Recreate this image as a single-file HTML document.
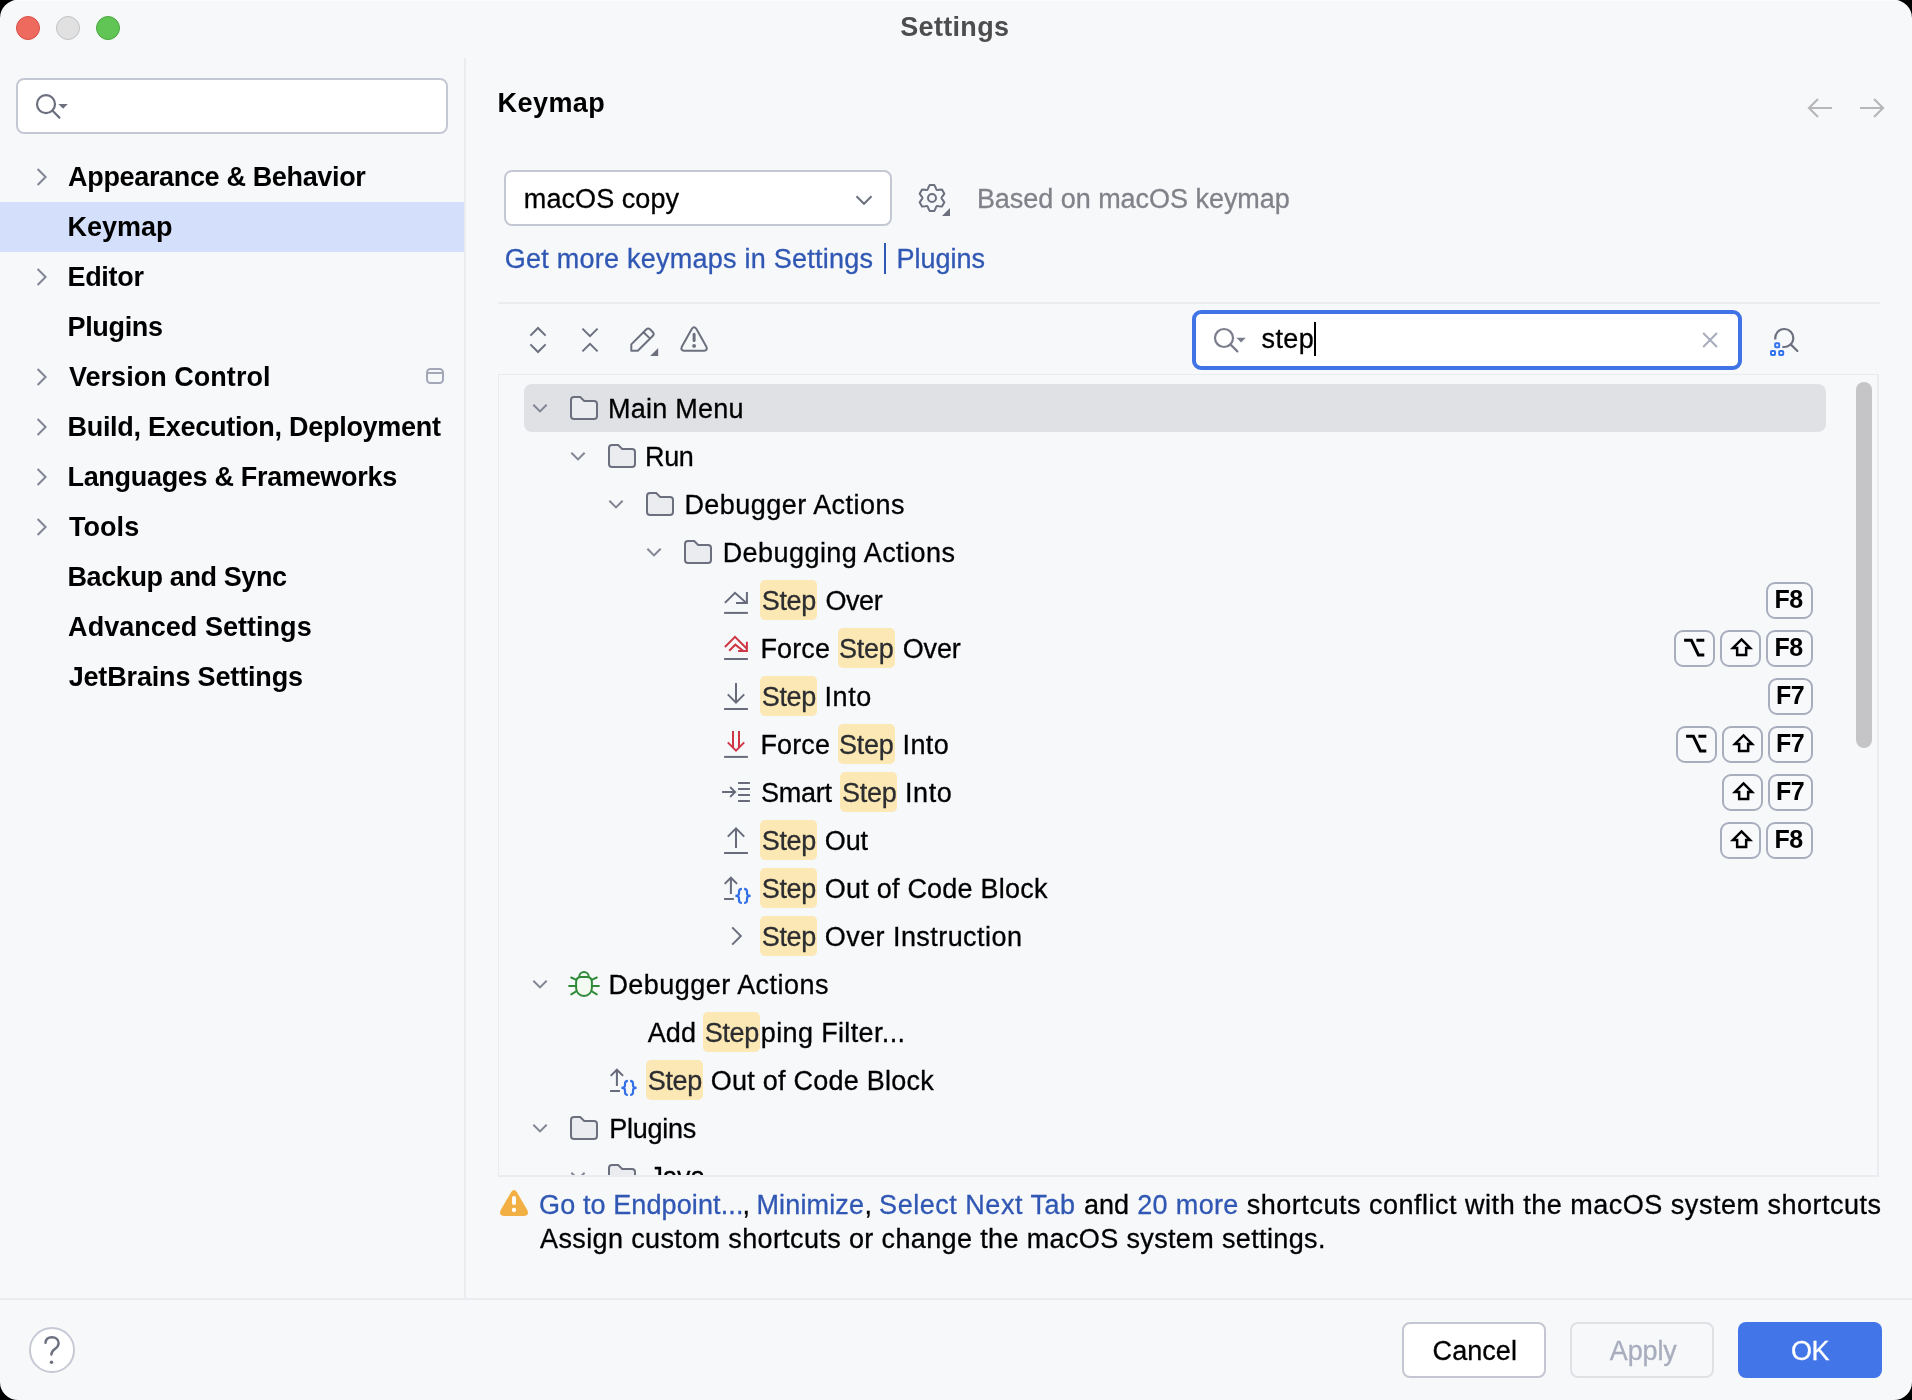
<!DOCTYPE html>
<html>
<head>
<meta charset="utf-8">
<title>Settings</title>
<style>
html,body{margin:0;padding:0;background:#000;}
body{width:1912px;height:1400px;overflow:hidden;font-family:"Liberation Sans",sans-serif;}
#win{position:absolute;left:0;top:0;width:1912px;height:1400px;background:#F7F8FA;border-radius:18px;overflow:hidden;}
.t{position:absolute;white-space:pre;line-height:32px;font-size:27px;-webkit-text-stroke:0.3px;}
.b{font-weight:700;-webkit-text-stroke:0;}
.ic{position:absolute;overflow:visible;}
.tl{position:absolute;top:16px;width:24px;height:24px;box-sizing:border-box;border:1px solid;border-radius:50%;}
.box{position:absolute;box-sizing:border-box;border:2px solid #C4C8D3;border-radius:8px;background:#fff;}
.hl{position:absolute;height:40px;border-radius:5px;background:#FCE8B5;}
.key{position:absolute;height:37px;box-sizing:border-box;border:2px solid #A9AEBF;border-radius:9px;background:#F8F9FB;}
#fg{position:absolute;left:0;top:0;width:1912px;height:1400px;will-change:transform;}
</style>
</head>
<body>
<div id="win">
<div id="fg">
<div style="position:absolute;left:0;top:0;width:1912px;height:1px;background:#FCFDFE">
</div>
<div class="tl" style="left:16px;background:#EE6A5F;border-color:#D84E44">
</div>
<div class="tl" style="left:56px;background:#E1E1E1;border-color:#C2C2C2">
</div>
<div class="tl" style="left:96px;background:#61C555;border-color:#47A83B">
</div>
<span class="t b" style="left:900.23px;top:11.00px;font-size:27px;letter-spacing:0.328px;color:#4D4D4D">Settings</span>
<div class="box" style="left:16px;top:78px;width:432px;height:56px">
</div>
<svg class="ic" style="left:30px;top:88px" width="44" height="36" viewBox="0 0 44 36">
<g fill="none" stroke="#6C707E" stroke-width="2.2">
<circle cx="16" cy="16.2" r="9"/>
<path d="M22.6 22.8 L29.4 29.6" stroke-linecap="round"/>
</g>
<path d="M28.4 16 h9.4 l-4.7 4.8z" fill="#6C707E"/>
</svg>
<div style="position:absolute;left:0;top:202px;width:464px;height:50px;background:#D4E0FB">
</div>
<span class="t b" style="left:68.12px;top:161.20px;font-size:27px;letter-spacing:-0.344px;color:#000">Appearance &amp; Behavior</span>
<svg class="ic" style="left:30px;top:165px" width="24" height="24" viewBox="0 0 24 24">
<path d="M7.6 4 L15.6 12 L7.6 20" fill="none" stroke="#818594" stroke-width="2"/>
</svg>
<span class="t b" style="left:67.46px;top:211.20px;font-size:27px;letter-spacing:0.008px;color:#000">Keymap</span>
<span class="t b" style="left:67.46px;top:261.20px;font-size:27px;letter-spacing:-0.293px;color:#000">Editor</span>
<svg class="ic" style="left:30px;top:265px" width="24" height="24" viewBox="0 0 24 24">
<path d="M7.6 4 L15.6 12 L7.6 20" fill="none" stroke="#818594" stroke-width="2"/>
</svg>
<span class="t b" style="left:67.46px;top:311.20px;font-size:27px;letter-spacing:-0.321px;color:#000">Plugins</span>
<span class="t b" style="left:68.97px;top:361.20px;font-size:27px;letter-spacing:0.034px;color:#000">Version Control</span>
<svg class="ic" style="left:30px;top:365px" width="24" height="24" viewBox="0 0 24 24">
<path d="M7.6 4 L15.6 12 L7.6 20" fill="none" stroke="#818594" stroke-width="2"/>
</svg>
<span class="t b" style="left:67.46px;top:411.20px;font-size:27px;letter-spacing:-0.277px;color:#000">Build, Execution, Deployment</span>
<svg class="ic" style="left:30px;top:415px" width="24" height="24" viewBox="0 0 24 24">
<path d="M7.6 4 L15.6 12 L7.6 20" fill="none" stroke="#818594" stroke-width="2"/>
</svg>
<span class="t b" style="left:67.46px;top:461.20px;font-size:27px;letter-spacing:-0.304px;color:#000">Languages &amp; Frameworks</span>
<svg class="ic" style="left:30px;top:465px" width="24" height="24" viewBox="0 0 24 24">
<path d="M7.6 4 L15.6 12 L7.6 20" fill="none" stroke="#818594" stroke-width="2"/>
</svg>
<span class="t b" style="left:68.91px;top:511.20px;font-size:27px;letter-spacing:0.070px;color:#000">Tools</span>
<svg class="ic" style="left:30px;top:515px" width="24" height="24" viewBox="0 0 24 24">
<path d="M7.6 4 L15.6 12 L7.6 20" fill="none" stroke="#818594" stroke-width="2"/>
</svg>
<span class="t b" style="left:67.46px;top:561.20px;font-size:27px;letter-spacing:-0.390px;color:#000">Backup and Sync</span>
<span class="t b" style="left:68.12px;top:611.20px;font-size:27px;letter-spacing:0.030px;color:#000">Advanced Settings</span>
<span class="t b" style="left:68.65px;top:661.20px;font-size:27px;letter-spacing:-0.158px;color:#000">JetBrains Settings</span>
<div style="position:absolute;left:426px;top:368px;width:18px;height:16px;box-sizing:border-box;border:2px solid #A3A7B8;border-radius:4.5px">
</div>
<div style="position:absolute;left:427px;top:372px;width:16px;height:2px;background:#A3A7B8">
</div>
<div style="position:absolute;left:464px;top:58px;width:2px;height:1241px;background:#EBECF0">
</div>
<span class="t b" style="left:497.58px;top:87.00px;font-size:27px;letter-spacing:0.426px;color:#000">Keymap</span>
<svg class="ic" style="left:1800px;top:92px" width="92" height="32" viewBox="0 0 92 32">
<g fill="none" stroke="#B7B7B7" stroke-width="2.2">
<path d="M32 16 H9 M18 7 L9 16 L18 25"/>
<path d="M60 16 H83 M74 7 L83 16 L74 25"/>
</g>
</svg>
<div class="box" style="left:504px;top:170px;width:388px;height:56px">
</div>
<span class="t" style="left:523.83px;top:182.50px;font-size:27px;letter-spacing:0.075px;color:#000">macOS copy</span>
<svg class="ic" style="left:852px;top:188px" width="24" height="24" viewBox="0 0 24 24">
<path d="M4.5 8.3 L12 15.8 L19.5 8.3" fill="none" stroke="#6C707E" stroke-width="2"/>
</svg>
<svg class="ic" style="left:914px;top:180px" width="40" height="40" viewBox="0 0 40 40">
<g fill="none" stroke="#6C707E" stroke-width="2" stroke-linejoin="round">
<path d="M15.61 5.12 L20.39 5.12 L21.82 8.06 Q22.25 10.64 24.70 9.72 L27.96 9.49 L30.35 13.63 L28.52 16.34 Q26.50 18.00 28.52 19.66 L30.35 22.37 L27.96 26.51 L24.70 26.28 Q22.25 25.36 21.82 27.94 L20.39 30.88 L15.61 30.88 L14.18 27.94 Q13.75 25.36 11.30 26.28 L8.04 26.51 L5.65 22.37 L7.48 19.66 Q9.50 18.00 7.48 16.34 L5.65 13.63 L8.04 9.49 L11.30 9.72 Q13.75 10.64 14.18 8.06 L15.61 5.12 Z"/>
<circle cx="18" cy="18" r="4"/>
</g>
<path d="M36 28 V36 H28z" fill="#6C707E"/>
</svg>
<span class="t" style="left:976.88px;top:182.50px;font-size:27px;letter-spacing:-0.036px;color:#808289">Based on macOS keymap</span>
<span class="t" style="left:504.84px;top:242.50px;font-size:27px;letter-spacing:0.246px;color:#3057B3">Get more keymaps in Settings</span>
<div style="position:absolute;left:884px;top:243px;width:2px;height:31px;background:#3057B3">
</div>
<span class="t" style="left:896.53px;top:242.50px;font-size:27px;letter-spacing:-0.017px;color:#3057B3">Plugins</span>
<div style="position:absolute;left:498px;top:302px;width:1382px;height:2px;background:#EBECF0">
</div>
<svg class="ic" style="left:522px;top:324px" width="32" height="32" viewBox="0 0 32 32">
<g fill="none" stroke="#6C707E" stroke-width="2">
<path d="M8.4 11.6 L16 4 L23.6 11.6 M8.4 20.4 L16 28 L23.6 20.4"/>
</g>
</svg>
<svg class="ic" style="left:574px;top:324px" width="32" height="32" viewBox="0 0 32 32">
<g fill="none" stroke="#6C707E" stroke-width="2">
<path d="M8.4 4.6 L16 12.2 L23.6 4.6 M8.4 27.4 L16 19.8 L23.6 27.4"/>
</g>
</svg>
<svg class="ic" style="left:626px;top:322px" width="36" height="36" viewBox="0 0 36 36">
<g fill="none" stroke="#6C707E" stroke-width="2" stroke-linejoin="round">
<path d="M5.3 28.7 V22.4 L20.4 7.3 Q22.2 5.7 24 7.3 L26.9 10.2 Q28.5 12 26.9 13.8 L11.8 28.7 Z M17.6 10.2 L24 16.6"/>
</g>
<path d="M32.2 26 V34 H24.2z" fill="#6C707E"/>
</svg>
<svg class="ic" style="left:676px;top:322px" width="36" height="36" viewBox="0 0 36 36">
<path d="M15.9 6.8 Q18.1 3.6 20.3 6.8 L30.4 24.8 Q31.8 28.4 28.2 28.7 H8 Q4.4 28.4 5.8 24.8 Z" fill="none" stroke="#6C707E" stroke-width="2" stroke-linejoin="round"/>
<path d="M18.1 12.2 V18.4" stroke="#6C707E" stroke-width="3" stroke-linecap="round"/>
<circle cx="18.1" cy="23.9" r="1.9" fill="#6C707E"/>
</svg>
<div style="position:absolute;left:1192px;top:310px;width:550px;height:60px;box-sizing:border-box;border:4px solid #3F73E6;border-radius:9px;background:#fff">
</div>
<svg class="ic" style="left:1208px;top:322px" width="44" height="36" viewBox="0 0 44 36">
<g fill="none" stroke="#7A7E8C" stroke-width="2.2">
<circle cx="16" cy="16" r="9"/>
<path d="M22.6 22.6 L29.4 29.4" stroke-linecap="round"/>
</g>
<path d="M28.4 15.8 h9.4 l-4.7 4.8z" fill="#7A7E8C"/>
</svg>
<span class="t" style="left:1261.60px;top:322.70px;font-size:27px;letter-spacing:0.363px;color:#000">step</span>
<div style="position:absolute;left:1314px;top:322px;width:2px;height:34px;background:#000">
</div>
<svg class="ic" style="left:1698px;top:328px" width="24" height="24" viewBox="0 0 24 24">
<path d="M5.2 5 L19 19 M19 5 L5.2 19" fill="none" stroke="#A8ADBD" stroke-width="2"/>
</svg>
<svg class="ic" style="left:1764px;top:322px" width="40" height="40" viewBox="0 0 40 40">
<g fill="none" stroke-width="2.2">
<path d="M11.44 17.56 A9 9 0 1 1 18.43 24.8" stroke="#6C707E"/>
<path d="M26.7 22.4 L33.4 29" stroke="#6C707E" stroke-linecap="round"/>
<g stroke="#3574F0" stroke-width="2">
<rect x="11.2" y="21.2" width="4" height="4" rx=".8"/>
<rect x="7" y="29" width="4" height="4" rx=".8"/>
<rect x="15.2" y="29" width="4" height="4" rx=".8"/>
</g>
</g>
</svg>
<div style="position:absolute;left:498px;top:374px;width:1381px;height:803px;box-sizing:border-box;border:2px solid #EBECF0;border-top-width:1px;border-left-width:1px">
</div>
<div style="position:absolute;left:524px;top:384px;width:1302px;height:48px;border-radius:8px;background:#DFE1E5">
</div>
<div style="position:absolute;left:1856px;top:382px;width:16px;height:366px;border-radius:8px;background:#C5C5C8">
</div>
<svg class="ic" style="left:528.35px;top:396px" width="24" height="24" viewBox="0 0 24 24">
<path d="M5.35 8.7 L12 15.35 L18.65 8.7" fill="none" stroke="#818594" stroke-width="2"/>
</svg>
<svg class="ic" style="left:568px;top:392px" width="32" height="32" viewBox="0 0 32 32">
<path d="M6 5 H12.2 L16.2 9 H26 A3 3 0 0 1 29 12 V24 A3 3 0 0 1 26 27 H6 A3 3 0 0 1 3 24 V8 A3 3 0 0 1 6 5 Z" fill="#EBECF0" stroke="#6C707E" stroke-width="2"/>
</svg>
<span class="t" style="left:607.88px;top:393.00px;font-size:27px;letter-spacing:0.260px;color:#000">Main Menu</span>
<svg class="ic" style="left:566.35px;top:444px" width="24" height="24" viewBox="0 0 24 24">
<path d="M5.35 8.7 L12 15.35 L18.65 8.7" fill="none" stroke="#818594" stroke-width="2"/>
</svg>
<svg class="ic" style="left:606px;top:440px" width="32" height="32" viewBox="0 0 32 32">
<path d="M6 5 H12.2 L16.2 9 H26 A3 3 0 0 1 29 12 V24 A3 3 0 0 1 26 27 H6 A3 3 0 0 1 3 24 V8 A3 3 0 0 1 6 5 Z" fill="#EBECF0" stroke="#6C707E" stroke-width="2"/>
</svg>
<span class="t" style="left:645.10px;top:441.00px;font-size:27px;letter-spacing:-0.450px;color:#000">Run</span>
<svg class="ic" style="left:604.35px;top:492px" width="24" height="24" viewBox="0 0 24 24">
<path d="M5.35 8.7 L12 15.35 L18.65 8.7" fill="none" stroke="#818594" stroke-width="2"/>
</svg>
<svg class="ic" style="left:644px;top:488px" width="32" height="32" viewBox="0 0 32 32">
<path d="M6 5 H12.2 L16.2 9 H26 A3 3 0 0 1 29 12 V24 A3 3 0 0 1 26 27 H6 A3 3 0 0 1 3 24 V8 A3 3 0 0 1 6 5 Z" fill="#EBECF0" stroke="#6C707E" stroke-width="2"/>
</svg>
<span class="t" style="left:684.38px;top:489.00px;font-size:27px;letter-spacing:0.464px;color:#000">Debugger Actions</span>
<svg class="ic" style="left:642.35px;top:540px" width="24" height="24" viewBox="0 0 24 24">
<path d="M5.35 8.7 L12 15.35 L18.65 8.7" fill="none" stroke="#818594" stroke-width="2"/>
</svg>
<svg class="ic" style="left:682px;top:536px" width="32" height="32" viewBox="0 0 32 32">
<path d="M6 5 H12.2 L16.2 9 H26 A3 3 0 0 1 29 12 V24 A3 3 0 0 1 26 27 H6 A3 3 0 0 1 3 24 V8 A3 3 0 0 1 6 5 Z" fill="#EBECF0" stroke="#6C707E" stroke-width="2"/>
</svg>
<span class="t" style="left:722.65px;top:537.00px;font-size:27px;letter-spacing:0.445px;color:#000">Debugging Actions</span>
<svg class="ic" style="left:720px;top:584px" width="32" height="32" viewBox="0 0 32 32">
<g fill="none" stroke="#676B7B" stroke-width="2">
<path d="M4.9 18.9 L15 8.8 L26.4 19"/>
<path d="M26.9 7.9 V18.9 H16"/>
<path d="M4.1 28.9 H27.9"/>
</g>
</svg>
<div class="hl" style="left:760px;top:580px;width:57px">
</div>
<span class="t" style="left:761.68px;top:585.00px;font-size:27px;letter-spacing:-0.293px;color:#2B2D30">Step</span>
<span class="t" style="left:825.47px;top:585.00px;font-size:27px;letter-spacing:-0.450px;color:#000">Over</span>
<div class="key" style="left:1765.8px;top:581.8px;width:47.4px">
</div>
<span class="t b" style="left:1774.51px;top:583.00px;font-size:25px;letter-spacing:-0.450px;color:#000">F8</span>
<svg class="ic" style="left:720px;top:632px" width="32" height="32" viewBox="0 0 32 32">
<g fill="none" stroke-width="2">
<path d="M4.9 15 L15 4.9 L26.4 16.3" stroke="#CE3645"/>
<path d="M9.2 18.8 L15.3 12.7 L23.4 19" stroke="#CE3645"/>
<path d="M26.9 9.7 V18.9 H18.1" stroke="#CE3645"/>
<path d="M4.1 27 H27.9" stroke="#676B7B"/>
</g>
</svg>
<span class="t" style="left:760.38px;top:633.00px;font-size:27px;letter-spacing:0.161px;color:#000">Force</span>
<div class="hl" style="left:837.5px;top:628px;width:57px">
</div>
<span class="t" style="left:839.10px;top:633.00px;font-size:27px;letter-spacing:-0.280px;color:#2B2D30">Step</span>
<span class="t" style="left:902.84px;top:633.00px;font-size:27px;letter-spacing:-0.219px;color:#000">Over</span>
<div class="key" style="left:1765.8px;top:629.8px;width:47.4px">
</div>
<span class="t b" style="left:1774.51px;top:631.00px;font-size:25px;letter-spacing:-0.450px;color:#000">F8</span>
<div class="key" style="left:1719.8px;top:629.8px;width:41.4px">
</div>
<svg class="ic" style="left:1720px;top:629.5px" width="41" height="37" viewBox="0 0 41 37">
<path d="M21.5 9.4 L30.05 17.95 H26.15 V25.05 H17.15 V17.95 H12.95 Z" fill="none" stroke="#000" stroke-width="2.5" stroke-linejoin="miter"/>
</svg>
<div class="key" style="left:1673.8px;top:629.8px;width:41.4px">
</div>
<svg class="ic" style="left:1674px;top:629.5px" width="41" height="37" viewBox="0 0 41 37">
<path d="M10.1 10.3 H17.4 L24.4 24.9 H30.3 M22.4 10.3 H30.3" fill="none" stroke="#000" stroke-width="3"/>
</svg>
<svg class="ic" style="left:720px;top:680px" width="32" height="32" viewBox="0 0 32 32">
<g fill="none" stroke="#676B7B" stroke-width="2">
<path d="M16 3 V22 M7.8 14.4 L16 22.6 L24.2 14.4 M4.1 28.9 H27.9"/>
</g>
</svg>
<div class="hl" style="left:760px;top:676px;width:57px">
</div>
<span class="t" style="left:761.68px;top:681.00px;font-size:27px;letter-spacing:-0.293px;color:#2B2D30">Step</span>
<span class="t" style="left:824.56px;top:681.00px;font-size:27px;letter-spacing:0.571px;color:#000">Into</span>
<div class="key" style="left:1767.8px;top:677.8px;width:45.4px">
</div>
<span class="t b" style="left:1775.96px;top:679.00px;font-size:25px;letter-spacing:-0.450px;color:#000">F7</span>
<svg class="ic" style="left:720px;top:728px" width="32" height="32" viewBox="0 0 32 32">
<g fill="none" stroke-width="2">
<path d="M13 3 V19.4 M19 3 V19.4 M7.8 14.4 L16 22.6 L24.2 14.4" stroke="#CE3645"/>
<path d="M4.1 28.9 H27.9" stroke="#676B7B"/>
</g>
</svg>
<span class="t" style="left:760.38px;top:729.00px;font-size:27px;letter-spacing:0.161px;color:#000">Force</span>
<div class="hl" style="left:837.5px;top:724px;width:57px">
</div>
<span class="t" style="left:839.10px;top:729.00px;font-size:27px;letter-spacing:-0.280px;color:#2B2D30">Step</span>
<span class="t" style="left:902.56px;top:729.00px;font-size:27px;letter-spacing:0.381px;color:#000">Into</span>
<div class="key" style="left:1767.8px;top:725.8px;width:45.4px">
</div>
<span class="t b" style="left:1775.96px;top:727.00px;font-size:25px;letter-spacing:-0.450px;color:#000">F7</span>
<div class="key" style="left:1721.8px;top:725.8px;width:41.4px">
</div>
<svg class="ic" style="left:1722px;top:725.5px" width="41" height="37" viewBox="0 0 41 37">
<path d="M21.5 9.4 L30.05 17.95 H26.15 V25.05 H17.15 V17.95 H12.95 Z" fill="none" stroke="#000" stroke-width="2.5" stroke-linejoin="miter"/>
</svg>
<div class="key" style="left:1675.8px;top:725.8px;width:41.4px">
</div>
<svg class="ic" style="left:1676px;top:725.5px" width="41" height="37" viewBox="0 0 41 37">
<path d="M10.1 10.3 H17.4 L24.4 24.9 H30.3 M22.4 10.3 H30.3" fill="none" stroke="#000" stroke-width="3"/>
</svg>
<svg class="ic" style="left:720px;top:776px" width="32" height="32" viewBox="0 0 32 32">
<g fill="none" stroke="#676B7B" stroke-width="2">
<path d="M2.1 16 H14.4"/>
<path d="M10.7 11.6 L15.1 16 L10.7 20.4" stroke-linecap="round"/>
<path d="M18.1 7 H29.9 M18.1 13 H29.9 M18.1 19 H29.9 M18.1 25 H29.9"/>
</g>
</svg>
<span class="t" style="left:760.92px;top:777.00px;font-size:27px;letter-spacing:-0.234px;color:#000">Smart</span>
<div class="hl" style="left:840.2px;top:772px;width:57px">
</div>
<span class="t" style="left:842.10px;top:777.00px;font-size:27px;letter-spacing:-0.280px;color:#2B2D30">Step</span>
<span class="t" style="left:905.10px;top:777.00px;font-size:27px;letter-spacing:0.524px;color:#000">Into</span>
<div class="key" style="left:1767.8px;top:773.8px;width:45.4px">
</div>
<span class="t b" style="left:1775.96px;top:775.00px;font-size:25px;letter-spacing:-0.450px;color:#000">F7</span>
<div class="key" style="left:1721.8px;top:773.8px;width:41.4px">
</div>
<svg class="ic" style="left:1722px;top:773.5px" width="41" height="37" viewBox="0 0 41 37">
<path d="M21.5 9.4 L30.05 17.95 H26.15 V25.05 H17.15 V17.95 H12.95 Z" fill="none" stroke="#000" stroke-width="2.5" stroke-linejoin="miter"/>
</svg>
<svg class="ic" style="left:720px;top:824px" width="32" height="32" viewBox="0 0 32 32">
<g fill="none" stroke="#676B7B" stroke-width="2">
<path d="M16 23.9 V5 M7.8 12.6 L16 4.4 L24.2 12.6 M4.1 28.9 H27.9"/>
</g>
</svg>
<div class="hl" style="left:760px;top:820px;width:57px">
</div>
<span class="t" style="left:761.68px;top:825.00px;font-size:27px;letter-spacing:-0.293px;color:#2B2D30">Step</span>
<span class="t" style="left:824.79px;top:825.00px;font-size:27px;letter-spacing:-0.157px;color:#000">Out</span>
<div class="key" style="left:1765.8px;top:821.8px;width:47.4px">
</div>
<span class="t b" style="left:1774.51px;top:823.00px;font-size:25px;letter-spacing:-0.450px;color:#000">F8</span>
<div class="key" style="left:1719.8px;top:821.8px;width:41.4px">
</div>
<svg class="ic" style="left:1720px;top:821.5px" width="41" height="37" viewBox="0 0 41 37">
<path d="M21.5 9.4 L30.05 17.95 H26.15 V25.05 H17.15 V17.95 H12.95 Z" fill="none" stroke="#000" stroke-width="2.5" stroke-linejoin="miter"/>
</svg>
<svg class="ic" style="left:720px;top:872px" width="32" height="32" viewBox="0 0 32 32">
<g fill="none" stroke-width="2">
<path d="M10.9 21.9 V6.4 M4.7 11.9 L10.9 5.7 L17.1 11.9 M4.1 27 H13.9" stroke="#676B7B"/>
<path d="M21.9 16.8 Q19 16.8 19 19.5 V21.6 Q19 23.9 15.4 23.9 Q19 23.9 19 26.2 V28.3 Q19 31 21.9 31 M24.1 16.8 Q27 16.8 27 19.5 V21.6 Q27 23.9 30.6 23.9 Q27 23.9 27 26.2 V28.3 Q27 31 24.1 31" stroke="#3370E8" stroke-width="2.2"/>
</g>
</svg>
<div class="hl" style="left:760px;top:868px;width:57px">
</div>
<span class="t" style="left:761.68px;top:873.00px;font-size:27px;letter-spacing:-0.293px;color:#2B2D30">Step</span>
<span class="t" style="left:824.79px;top:873.00px;font-size:27px;letter-spacing:0.225px;color:#000">Out of Code Block</span>
<svg class="ic" style="left:724px;top:924px" width="24" height="24" viewBox="0 0 24 24">
<path d="M8.2 3.4 L16.8 12 L8.2 20.6" fill="none" stroke="#6C707E" stroke-width="2"/>
</svg>
<div class="hl" style="left:760px;top:916px;width:57px">
</div>
<span class="t" style="left:761.68px;top:921.00px;font-size:27px;letter-spacing:-0.293px;color:#2B2D30">Step</span>
<span class="t" style="left:824.79px;top:921.00px;font-size:27px;letter-spacing:0.437px;color:#000">Over Instruction</span>
<svg class="ic" style="left:528.35px;top:972px" width="24" height="24" viewBox="0 0 24 24">
<path d="M5.35 8.7 L12 15.35 L18.65 8.7" fill="none" stroke="#818594" stroke-width="2"/>
</svg>
<svg class="ic" style="left:568px;top:968px" width="32" height="32" viewBox="0 0 32 32">
<g fill="none" stroke="#2F8A3A" stroke-width="2">
<path d="M11.2 9 A4.8 4.9 0 0 1 20.8 9" fill="#F4FAF4"/>
<path d="M8.1 14 Q8.1 9 13.1 9 H18.9 Q23.9 9 23.9 14 V20 A7.9 7.9 0 0 1 8.1 20 Z" fill="#F2FAF2"/>
<path d="M1.1 17.9 H8.1 M23.9 17.9 H30.9 M3.2 9.5 L8.4 11.8 M28.8 9.5 L23.6 11.8 M3.2 26.3 L8.6 23.2 M28.8 26.3 L23.4 23.2" stroke-linecap="round"/>
</g>
</svg>
<span class="t" style="left:608.38px;top:969.00px;font-size:27px;letter-spacing:0.464px;color:#000">Debugger Actions</span>
<span class="t" style="left:647.84px;top:1017.00px;font-size:27px;letter-spacing:0.012px;color:#000">Add</span>
<div class="hl" style="left:703.25px;top:1012px;width:56.75px">
</div>
<span class="t" style="left:704.72px;top:1017.00px;font-size:27px;letter-spacing:-0.308px;color:#2B2D30">Step</span>
<span class="t" style="left:760.84px;top:1017.00px;font-size:27px;letter-spacing:0.354px;color:#000">ping Filter...</span>
<svg class="ic" style="left:606px;top:1064px" width="32" height="32" viewBox="0 0 32 32">
<g fill="none" stroke-width="2">
<path d="M10.9 21.9 V6.4 M4.7 11.9 L10.9 5.7 L17.1 11.9 M4.1 27 H13.9" stroke="#676B7B"/>
<path d="M21.9 16.8 Q19 16.8 19 19.5 V21.6 Q19 23.9 15.4 23.9 Q19 23.9 19 26.2 V28.3 Q19 31 21.9 31 M24.1 16.8 Q27 16.8 27 19.5 V21.6 Q27 23.9 30.6 23.9 Q27 23.9 27 26.2 V28.3 Q27 31 24.1 31" stroke="#3370E8" stroke-width="2.2"/>
</g>
</svg>
<div class="hl" style="left:646px;top:1060px;width:57px">
</div>
<span class="t" style="left:647.68px;top:1065.00px;font-size:27px;letter-spacing:-0.293px;color:#2B2D30">Step</span>
<span class="t" style="left:710.84px;top:1065.00px;font-size:27px;letter-spacing:0.235px;color:#000">Out of Code Block</span>
<svg class="ic" style="left:528.35px;top:1116px" width="24" height="24" viewBox="0 0 24 24">
<path d="M5.35 8.7 L12 15.35 L18.65 8.7" fill="none" stroke="#818594" stroke-width="2"/>
</svg>
<svg class="ic" style="left:568px;top:1112px" width="32" height="32" viewBox="0 0 32 32">
<path d="M6 5 H12.2 L16.2 9 H26 A3 3 0 0 1 29 12 V24 A3 3 0 0 1 26 27 H6 A3 3 0 0 1 3 24 V8 A3 3 0 0 1 6 5 Z" fill="#EBECF0" stroke="#6C707E" stroke-width="2"/>
</svg>
<span class="t" style="left:609.28px;top:1113.00px;font-size:27px;letter-spacing:-0.282px;color:#000">Plugins</span>
<div style="position:absolute;left:500px;top:1140px;width:1370px;height:35px;overflow:hidden">
<div style="position:absolute;left:-500px;top:-1140px;width:1912px;height:1400px">
<svg class="ic" style="left:566.35px;top:1164px" width="24" height="24" viewBox="0 0 24 24">
<path d="M5.35 8.7 L12 15.35 L18.65 8.7" fill="none" stroke="#818594" stroke-width="2"/>
</svg>
<svg class="ic" style="left:606px;top:1160px" width="32" height="32" viewBox="0 0 32 32">
<path d="M6 5 H12.2 L16.2 9 H26 A3 3 0 0 1 29 12 V24 A3 3 0 0 1 26 27 H6 A3 3 0 0 1 3 24 V8 A3 3 0 0 1 6 5 Z" fill="#EBECF0" stroke="#6C707E" stroke-width="2"/>
</svg>
<span class="t" style="left:649.47px;top:1161.00px;font-size:27px;letter-spacing:-0.450px;color:#000">Java</span>
</div>
</div>
<svg class="ic" style="left:498px;top:1187px" width="32" height="32" viewBox="0 0 32 32">
<path d="M13.2 5 Q16 0.8 18.8 5 L29.3 23 Q31.5 28.4 26.4 28.9 H5.6 Q0.5 28.4 2.7 23 Z" fill="#F2B044"/>
<path d="M16 11 V16" stroke="#fff" stroke-width="4" stroke-linecap="round"/>
<circle cx="16" cy="23" r="2.15" fill="#fff"/>
</svg>
<span class="t" style="left:539.09px;top:1189.00px;font-size:27px;letter-spacing:0.107px;color:#3057B3">Go to Endpoint...</span>
<span class="t" style="left:742.54px;top:1189.00px;font-size:27px;letter-spacing:0.000px;color:#000">,</span>
<span class="t" style="left:756.45px;top:1189.00px;font-size:27px;letter-spacing:0.155px;color:#3057B3">Minimize</span>
<span class="t" style="left:864.54px;top:1189.00px;font-size:27px;letter-spacing:0.000px;color:#000">,</span>
<span class="t" style="left:879.10px;top:1189.00px;font-size:27px;letter-spacing:0.528px;color:#3057B3">Select Next Tab</span>
<span class="t" style="left:1083.97px;top:1189.00px;font-size:27px;letter-spacing:-0.052px;color:#000">and</span>
<span class="t" style="left:1137.23px;top:1189.00px;font-size:27px;letter-spacing:0.346px;color:#3057B3">20 more</span>
<span class="t" style="left:1246.81px;top:1189.00px;font-size:27px;letter-spacing:0.512px;color:#000">shortcuts conflict with the macOS system shortcuts</span>
<span class="t" style="left:540.10px;top:1223.00px;font-size:27px;letter-spacing:0.365px;color:#000">Assign custom shortcuts or change the macOS system settings.</span>
<div style="position:absolute;left:0;top:1298px;width:1912px;height:2px;background:#EBECF0">
</div>
<div style="position:absolute;left:29.2px;top:1327.1px;width:45.6px;height:45.6px;box-sizing:border-box;border:2px solid #C7CAD5;border-radius:50%;background:#fff">
</div>
<svg class="ic" style="left:24px;top:1322px" width="56" height="56" viewBox="0 0 56 56">
<path d="M21.5 20.8 C21.8 16.6 24.6 15.3 28 15.3 C31.8 15.3 34.6 17.8 34.6 21.2 C34.6 24.4 32.6 25.8 30.6 27.2 C28.6 28.6 27.4 30 27.4 32.6" fill="none" stroke="#6C707E" stroke-width="2.4" stroke-linecap="round"/>
<circle cx="27.5" cy="40.2" r="1.75" fill="#6C707E"/>
</svg>
<div style="position:absolute;left:1402px;top:1322px;width:144px;height:56px;box-sizing:border-box;border:2px solid #C4C7D2;border-radius:8px;background:#fff">
</div>
<span class="t" style="left:1432.59px;top:1335.00px;font-size:27px;letter-spacing:0.053px;color:#000">Cancel</span>
<div style="position:absolute;left:1570px;top:1322px;width:144px;height:56px;box-sizing:border-box;border:2px solid #DFE1E5;border-radius:8px">
</div>
<span class="t" style="left:1609.84px;top:1335.00px;font-size:27px;letter-spacing:-0.149px;color:#A8ADBD">Apply</span>
<div style="position:absolute;left:1738px;top:1322px;width:144px;height:56px;border-radius:8px;background:#4275E7">
</div>
<span class="t" style="left:1790.93px;top:1335.00px;font-size:27px;letter-spacing:-0.450px;color:#fff">OK</span>
</div>
</div>
</body>
</html>
